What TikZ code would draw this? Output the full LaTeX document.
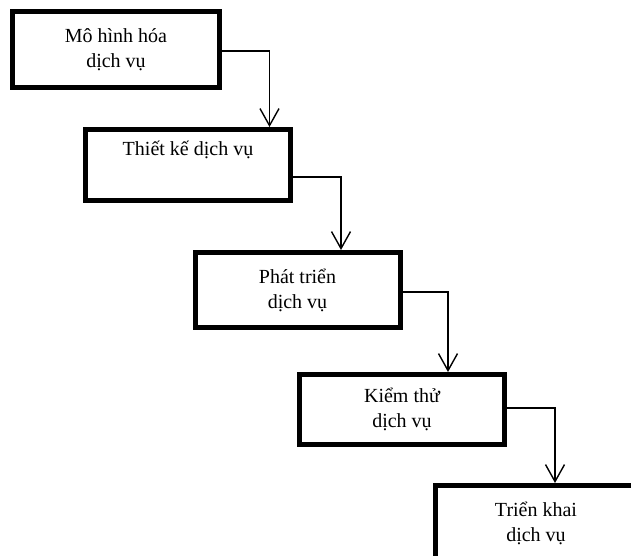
\documentclass[tikz,border=0pt]{standalone}
\usepackage{fontspec}
\setmainfont{Liberation Serif}
\usetikzlibrary{arrows.meta}
\tikzset{
  stage/.style={draw, line width=5bp, rectangle, align=center,
    font=\fontsize{20bp}{25bp}\selectfont, inner sep=0pt},
  conn/.style={line width=1.4bp, -{Straight Barb[length=17bp,width=19bp,line width=1.4bp]}}
}
\begin{document}
\begin{tikzpicture}[x=1bp,y=-1bp]
\useasboundingbox (0,0) rectangle (631,556);
\clip (0,0) rectangle (631,556);
% process stages, stepping down to the right
\node[stage, minimum width=207bp, minimum height=76bp] (b1) at (116,49.5) {Mô hình hóa\\dịch vụ};
\node[stage, minimum width=205bp, minimum height=71bp] (b2) at (188,165) {Thiết kế dịch vụ\\\strut};
\node[stage, minimum width=205bp, minimum height=75bp] (b3) at (297.5,290) {Phát triển\\dịch vụ};
\node[stage, minimum width=205bp, minimum height=70bp] (b4) at (402,409.5) {Kiểm thử\\dịch vụ};
\node[stage, minimum width=201bp, minimum height=75bp] (b5) at (536,523) {Triển khai\\dịch vụ};
% elbow connectors between consecutive stages
\draw[conn] (b1.east |- 0,51) -| (b2.north -| 269.5,0);
\draw[conn] (b2.east |- 0,177) -| (b3.north -| 341,0);
\draw[conn] (b3.east |- 0,292) -| (b4.north -| 448,0);
\draw[conn] (b4.east |- 0,408) -| (b5.north -| 555,0);
\end{tikzpicture}
\end{document}
